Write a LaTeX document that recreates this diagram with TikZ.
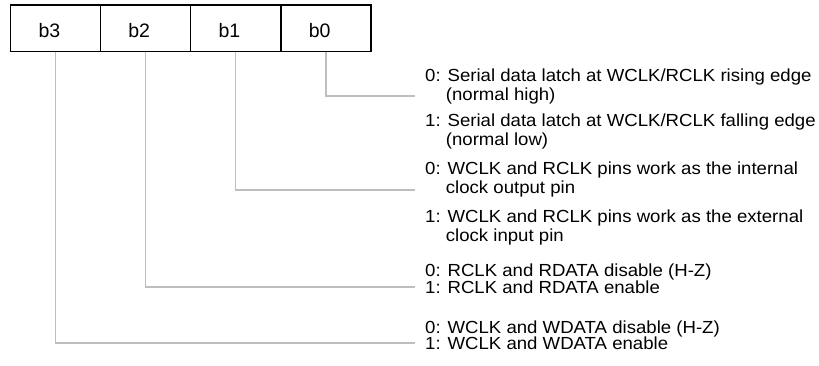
\documentclass[tikz,border=0pt]{standalone}
\usepackage{fontspec}
\setmainfont{Liberation Sans}
\newcommand\wide[1]{\scalebox{1.063}[1]{#1}}
\definecolor{linegray}{HTML}{BEBEBE}
\begin{document}
\begin{tikzpicture}[x=1pt,y=-1pt,
  cell/.style={draw=black, line width=1.3pt, minimum width=90.2pt, minimum height=46.7pt, inner sep=0pt, outer sep=0pt},
  bitlbl/.style={anchor=base, inner sep=0pt, font=\fontsize{19.5}{22}\selectfont},
  desc/.style={anchor=base west, inner sep=0pt, font=\fontsize{17.5}{20}\selectfont},
  conn/.style={draw=linegray, line width=1.3pt}]
\useasboundingbox (0,0) rectangle (819,365);
% register cells
\node[cell] (b3) at (55.35,28.35) {};
\node[cell] (b2) at (145.55,28.35) {};
\node[cell] (b1) at (235.75,28.35) {};
\node[cell] (b0) at (325.95,28.35) {};
\node[bitlbl] (l3) at (49.5,37.3) {b3};
\node[bitlbl] (l2) at (139.2,37.3) {b2};
\node[bitlbl] (l1) at (229.4,37.3) {b1};
\node[bitlbl] (l0) at (319.6,37.3) {b0};
% connector ends
\coordinate (e0) at (415,96);
\coordinate (e1) at (415,190);
\coordinate (e2) at (415,287);
\coordinate (e3) at (415,343);
\draw[conn] (b0.south) |- (e0);
\draw[conn] (b1.south) |- (e1);
\draw[conn] (b2.south) |- (e2);
\draw[conn] (b3.south) |- (e3);
% descriptions
\node[desc] (t1)  at (425,81)  {\wide{0: Serial data latch at WCLK/RCLK rising edge}};
\node[desc] (t2)  at (425,100) {\wide{\phantom{0:\ }(normal high)}};
\node[desc] (t3)  at (425,126) {\wide{1: Serial data latch at WCLK/RCLK falling edge}};
\node[desc] (t4)  at (425,145) {\wide{\phantom{1:\ }(normal low)}};
\node[desc] (t5)  at (425,174) {\wide{0: WCLK and RCLK pins work as the internal}};
\node[desc] (t6)  at (425,193) {\wide{\phantom{0:\ }clock output pin}};
\node[desc] (t7)  at (425,222) {\wide{1: WCLK and RCLK pins work as the external}};
\node[desc] (t8)  at (425,241) {\wide{\phantom{1:\ }clock input pin}};
\node[desc] (t9)  at (425,276) {\wide{0: RCLK and RDATA disable (H-Z)}};
\node[desc] (t10) at (425,293) {\wide{1: RCLK and RDATA enable}};
\node[desc] (t11) at (425,333) {\wide{0: WCLK and WDATA disable (H-Z)}};
\node[desc] (t12) at (425,349) {\wide{1: WCLK and WDATA enable}};
\end{tikzpicture}
\end{document}
